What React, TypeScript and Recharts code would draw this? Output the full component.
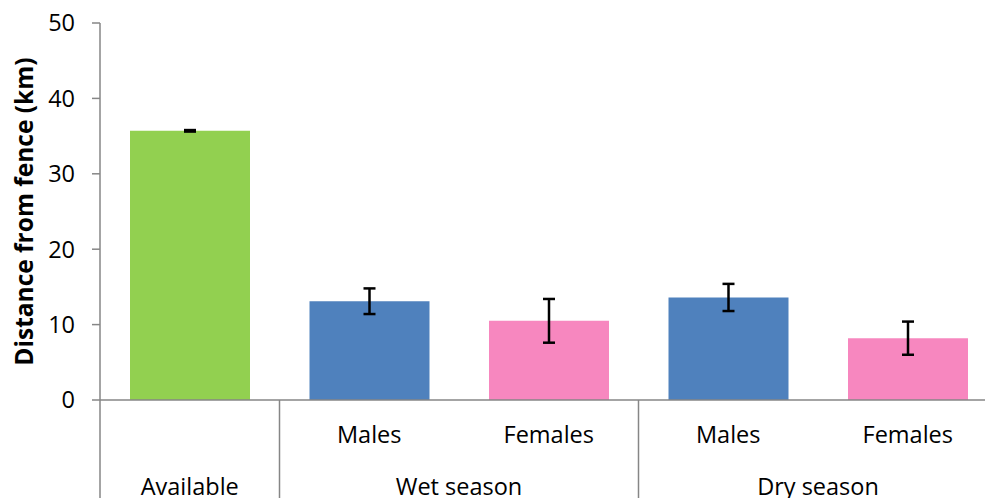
import React from "react";
import { BarChart, Bar, XAxis, YAxis, Cell, ErrorBar } from "recharts";

// inner level (empty for the single "Available" column) and outer level of the category axis
const subLabels = ["", "Males", "Females", "Males", "Females"];
const groupLabels = ["Available", "Wet season", "Dry season"];
const groupSpans = [1, 2, 2];

// mean distance and its error, in km
const means = [35.7, 13.1, 10.5, 13.6, 8.2];
const errors = [0.1, 1.7, 2.9, 1.8, 2.2];

const barColors = ["#92D050", "#4F81BD", "#F787BF", "#4F81BD", "#F787BF"];
const yTicks = [0, 10, 20, 30, 40, 50];

const CHART_W = 1000;
const CHART_H = 498;
const MARGIN = { top: 23, right: 2.5, bottom: 0, left: 0 };
const Y_AXIS_W = 100;
const X_AXIS_H = 98;
const BAND = (CHART_W - MARGIN.left - MARGIN.right - Y_AXIS_W) / subLabels.length;

const AXIS_COLOR = "#868686";
const FONT = "'Open Sans', sans-serif";
const FONT_SIZE = 23.5;

const groupStarts: number[] = [];
let acc = 0;
groupSpans.forEach((s) => {
  groupStarts.push(acc);
  acc += s;
});

const data = means.map((mean, i) => ({
  key: `c${i}`,
  sub: subLabels[i],
  mean,
  err: errors[i],
}));

// two-row category axis: sub label, then group label with separators at group edges
function CategoryTick(props: any) {
  const { x, y, index } = props;
  const g = groupStarts.indexOf(index);
  const left = x - BAND / 2;
  const last = index === subLabels.length - 1;
  return (
    <g>
      {subLabels[index] && (
        <text x={x} y={y + 43} textAnchor="middle" fontSize={FONT_SIZE} fontFamily={FONT} fill="#000">
          {subLabels[index]}
        </text>
      )}
      {g >= 0 && (
        <>
          <line x1={left} y1={y} x2={left} y2={y + X_AXIS_H} stroke={AXIS_COLOR} strokeWidth={1.5} />
          <text
            x={left + (groupSpans[g] * BAND) / 2}
            y={y + 95}
            textAnchor="middle"
            fontSize={FONT_SIZE}
            fontFamily={FONT}
            fill="#000"
          >
            {groupLabels[g]}
          </text>
        </>
      )}
      {last && (
        <line x1={x + BAND / 2} y1={y} x2={x + BAND / 2} y2={y + X_AXIS_H} stroke={AXIS_COLOR} strokeWidth={1.5} />
      )}
    </g>
  );
}

// rotated y-axis title, baseline 33px from the left edge
function AxisTitle(props: any) {
  const { x, y, height } = props.viewBox;
  const cx = x + 33;
  const cy = y + height / 2;
  return (
    <text
      x={cx}
      y={cy}
      transform={`rotate(-90 ${cx} ${cy})`}
      textAnchor="middle"
      fontSize={24.5}
      fontWeight="bold"
      fontFamily={FONT}
      fill="#000"
    >
      Distance from fence (km)
    </text>
  );
}

export default function App() {
  return (
    <div
      style={{
        position: "absolute",
        left: 0,
        top: 0,
        width: 985,
        height: 498,
        overflow: "hidden",
        background: "#fff",
      }}
    >
      <BarChart width={CHART_W} height={CHART_H} data={data} margin={MARGIN}>
        <XAxis
          dataKey="key"
          height={X_AXIS_H}
          interval={0}
          tickLine={false}
          tickSize={0}
          tickMargin={0}
          axisLine={{ stroke: AXIS_COLOR, strokeWidth: 1.5 }}
          tick={<CategoryTick />}
        />
        <YAxis
          width={Y_AXIS_W}
          domain={[0, 50]}
          ticks={yTicks}
          tickSize={8}
          tickMargin={17}
          axisLine={{ stroke: AXIS_COLOR, strokeWidth: 1.5 }}
          tickLine={{ stroke: AXIS_COLOR, strokeWidth: 1.5 }}
          tick={{ fontSize: FONT_SIZE, fontFamily: FONT, fill: "#000" }}
          label={{ content: (p: any) => <AxisTitle {...p} /> }}
        />
        <Bar dataKey="mean" barSize={120} isAnimationActive={false}>
          {data.map((d, i) => (
            <Cell key={d.key} fill={barColors[i]} />
          ))}
          <ErrorBar
            dataKey="err"
            direction="y"
            width={6}
            stroke="#000"
            strokeWidth={2.5}
            isAnimationActive={false}
          />
        </Bar>
      </BarChart>
    </div>
  );
}
